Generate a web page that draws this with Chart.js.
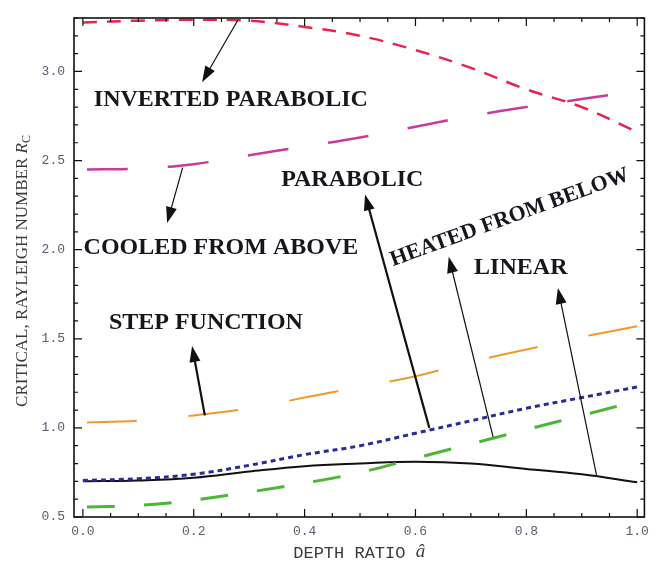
<!DOCTYPE html>
<html>
<head>
<meta charset="utf-8">
<script src="https://cdn.jsdelivr.net/npm/chart.js@4/dist/chart.umd.min.js"></script>
<style>
  html, body { margin: 0; padding: 0; background: #fff; }
  #wrap { width: 656px; height: 572px; }
</style>
</head>
<body>
<div id="wrap"><canvas id="chart"></canvas></div>
<script>
// ─── DATA ─────────────────────────────────────────────────────
const depthRatio        = [0, 0.1, 0.2, 0.3, 0.4, 0.5, 0.6, 0.7, 0.8, 0.9, 1.0];
const invertedParabolic = [3.275, 3.285, 3.29, 3.285, 3.25, 3.2, 3.12, 3.02, 2.9, 2.8, 2.66];
const cooledFromAbove   = [2.45, 2.455, 2.48, 2.53, 2.58, 2.63, 2.69, 2.75, 2.80, 2.845, 2.89];
const stepFunction      = [1.03, 1.04, 1.07, 1.11, 1.17, 1.23, 1.29, 1.37, 1.44, 1.51, 1.57];
const parabolic         = [0.705, 0.715, 0.74, 0.79, 0.85, 0.9, 0.97, 1.04, 1.11, 1.17, 1.23];
const heatedFromBelow   = [0.555, 0.565, 0.595, 0.64, 0.69, 0.75, 0.83, 0.91, 0.99, 1.07, 1.15];
const linear            = [0.70, 0.705, 0.72, 0.755, 0.785, 0.80, 0.81, 0.80, 0.77, 0.74, 0.695];

const xTicks = [0, 0.2, 0.4, 0.6, 0.8, 1.0];
const yTicks = [0.5, 1.0, 1.5, 2.0, 2.5, 3.0];

// label text + anchor in data units
const notes = [
  { text: 'INVERTED PARABOLIC', x: 0.267, y: 2.84 },
  { text: 'COOLED FROM ABOVE',  x: 0.249, y: 2.01 },
  { text: 'PARABOLIC',          x: 0.486, y: 2.39 },
  { text: 'HEATED FROM BELOW',  x: 0.770, y: 2.18, rot: -20, size: 22 },
  { text: 'LINEAR',             x: 0.790, y: 1.90 },
  { text: 'STEP FUNCTION',      x: 0.222, y: 1.59 }
];

// arrows: tail on the curve -> head near the label
const arrows = [
  { from: [0.28, 3.29],  to: [0.215, 2.94], w: 1.2 },
  { from: [0.18, 2.46],  to: [0.152, 2.15], w: 1.2 },
  { from: [0.22, 1.07],  to: [0.197, 1.46], w: 2.2 },
  { from: [0.625, 1.0],  to: [0.509, 2.31], w: 2.2 },
  { from: [0.74, 0.95],  to: [0.660, 1.96], w: 1.2 },
  { from: [0.927, 0.73], to: [0.857, 1.785], w: 1.2 }
];

const pts = arr => arr.map((v, i) => ({ x: depthRatio[i], y: v }));

function line(data, color, width, dash, offset) {
  return {
    data: pts(data), borderColor: color, borderWidth: width,
    borderDash: dash || [], borderDashOffset: offset || 0,
    pointRadius: 0, fill: false, tension: 0.4, borderCapStyle: 'butt'
  };
}

// ─── PLUGINS ──────────────────────────────────────────────────
const frame = {
  id: 'frame',
  afterDraw(chart) {
    const { ctx, chartArea: a, scales: { x, y } } = chart;
    ctx.save();
    ctx.strokeStyle = '#111';
    ctx.lineWidth = 1.2;
    ctx.beginPath();
    for (let i = 0; i <= 20; i++) {
      const px = x.getPixelForValue(i * 0.05);
      const len = i % 4 === 0 ? 8 : 4;
      ctx.moveTo(px, a.bottom); ctx.lineTo(px, a.bottom - len);
      ctx.moveTo(px, a.top);    ctx.lineTo(px, a.top + len);
    }
    for (let i = 0; i <= 28; i++) {
      const py = y.getPixelForValue(0.5 + i * 0.1);
      const len = i % 5 === 0 ? 8 : 4;
      ctx.moveTo(a.left, py);  ctx.lineTo(a.left + len, py);
      ctx.moveTo(a.right, py); ctx.lineTo(a.right - len, py);
    }
    ctx.stroke();
    ctx.lineWidth = 1.6;
    ctx.strokeRect(a.left, a.top, a.right - a.left, a.bottom - a.top);

    // axis titles
    ctx.fillStyle = '#3a3a3a';
    ctx.textBaseline = 'middle';
    ctx.textAlign = 'left';
    const t1 = 'DEPTH RATIO ';
    ctx.font = '17px "Liberation Mono"';
    const w1 = ctx.measureText(t1).width;
    ctx.font = 'italic 19px "Liberation Serif"';
    const w2 = ctx.measureText('â').width;
    const sx = (a.left + a.right) / 2 - (w1 + w2) / 2;
    ctx.font = '17px "Liberation Mono"';
    ctx.fillText(t1, sx, 553);
    ctx.font = 'italic 19px "Liberation Serif"';
    ctx.fillText('â', sx + w1, 552);

    ctx.translate(23, 271);
    ctx.rotate(-Math.PI / 2);
    const base = 'CRITICAL, RAYLEIGH NUMBER ';
    ctx.font = '17px "Liberation Serif"';
    const b1 = ctx.measureText(base).width;
    ctx.font = 'italic 17px "Liberation Serif"';
    const b2 = ctx.measureText('R').width;
    ctx.font = '12px "Liberation Serif"';
    const b3 = ctx.measureText('C').width;
    const tx = -(b1 + b2 + b3) / 2;
    ctx.font = '17px "Liberation Serif"';
    ctx.fillText(base, tx, 0);
    ctx.font = 'italic 17px "Liberation Serif"';
    ctx.fillText('R', tx + b1, 0);
    ctx.font = '12px "Liberation Serif"';
    ctx.fillText('C', tx + b1 + b2, 4);
    ctx.restore();
  },
  afterDatasetsDraw(chart) {
    const { ctx, scales: { x, y } } = chart;
    ctx.save();
    // arrows
    ctx.strokeStyle = '#111';
    ctx.fillStyle = '#111';
    arrows.forEach(ar => {
      const x0 = x.getPixelForValue(ar.from[0]), y0 = y.getPixelForValue(ar.from[1]);
      const x1 = x.getPixelForValue(ar.to[0]),   y1 = y.getPixelForValue(ar.to[1]);
      const ang = Math.atan2(y1 - y0, x1 - x0);
      const hl = 16, hw = 5.5;
      ctx.lineWidth = ar.w;
      ctx.beginPath();
      ctx.moveTo(x0, y0);
      ctx.lineTo(x1 - Math.cos(ang) * hl * 0.8, y1 - Math.sin(ang) * hl * 0.8);
      ctx.stroke();
      ctx.beginPath();
      ctx.moveTo(x1, y1);
      ctx.lineTo(x1 - Math.cos(ang) * hl + Math.sin(ang) * hw, y1 - Math.sin(ang) * hl - Math.cos(ang) * hw);
      ctx.lineTo(x1 - Math.cos(ang) * hl - Math.sin(ang) * hw, y1 - Math.sin(ang) * hl + Math.cos(ang) * hw);
      ctx.closePath();
      ctx.fill();
    });
    // labels
    ctx.fillStyle = '#16161e';
    ctx.textAlign = 'center';
    ctx.textBaseline = 'middle';
    notes.forEach(n => {
      ctx.save();
      ctx.translate(x.getPixelForValue(n.x), y.getPixelForValue(n.y));
      if (n.rot) ctx.rotate(n.rot * Math.PI / 180);
      ctx.font = 'bold ' + (n.size || 24) + 'px "Liberation Serif"';
      ctx.fillText(n.text, 0, 0);
      ctx.restore();
    });
    ctx.restore();
  }
};

// ─── CHART ────────────────────────────────────────────────────
const tickFont = { family: 'Liberation Mono', size: 13 };

new Chart(document.getElementById('chart'), {
  type: 'line',
  data: {
    datasets: [
      line(invertedParabolic, '#e8234f', 2.5, [14, 10], 0),
      line(cooledFromAbove, '#c93a9c', 2.5, [41, 40], -4),
      line(stepFunction, '#f09a2a', 2, [50, 52], -4),
      line(heatedFromBelow, '#4fb536', 3, [28, 29], -4),
      line(parabolic, '#2b2b98', 3, [5, 4], 0),
      line(linear, '#111111', 2, [], 0)
    ]
  },
  options: {
    responsive: true, maintainAspectRatio: false, animation: false,
    layout: { padding: { top: 18, right: 8, left: 0, bottom: 0 } },
    plugins: { legend: { display: false }, tooltip: { enabled: false } },
    scales: {
      x: {
        type: 'linear', min: -0.016, max: 1.013,
        afterBuildTicks: s => { s.ticks = xTicks.map(v => ({ value: v })); },
        afterFit: s => { s.height = 55; },
        grid: { display: false, drawTicks: false },
        border: { display: false },
        ticks: { padding: 7, font: tickFont, color: '#556070', maxRotation: 0,
                 callback: v => v.toFixed(1) }
      },
      y: {
        type: 'linear', min: 0.5, max: 3.3,
        afterBuildTicks: s => { s.ticks = yTicks.map(v => ({ value: v })); },
        afterFit: s => { s.width = 74; },
        grid: { display: false, drawTicks: false },
        border: { display: false },
        ticks: { padding: 9, font: tickFont, color: '#556070',
                 callback: v => v.toFixed(1) }
      }
    }
  },
  plugins: [frame]
});
</script>
</body>
</html>
